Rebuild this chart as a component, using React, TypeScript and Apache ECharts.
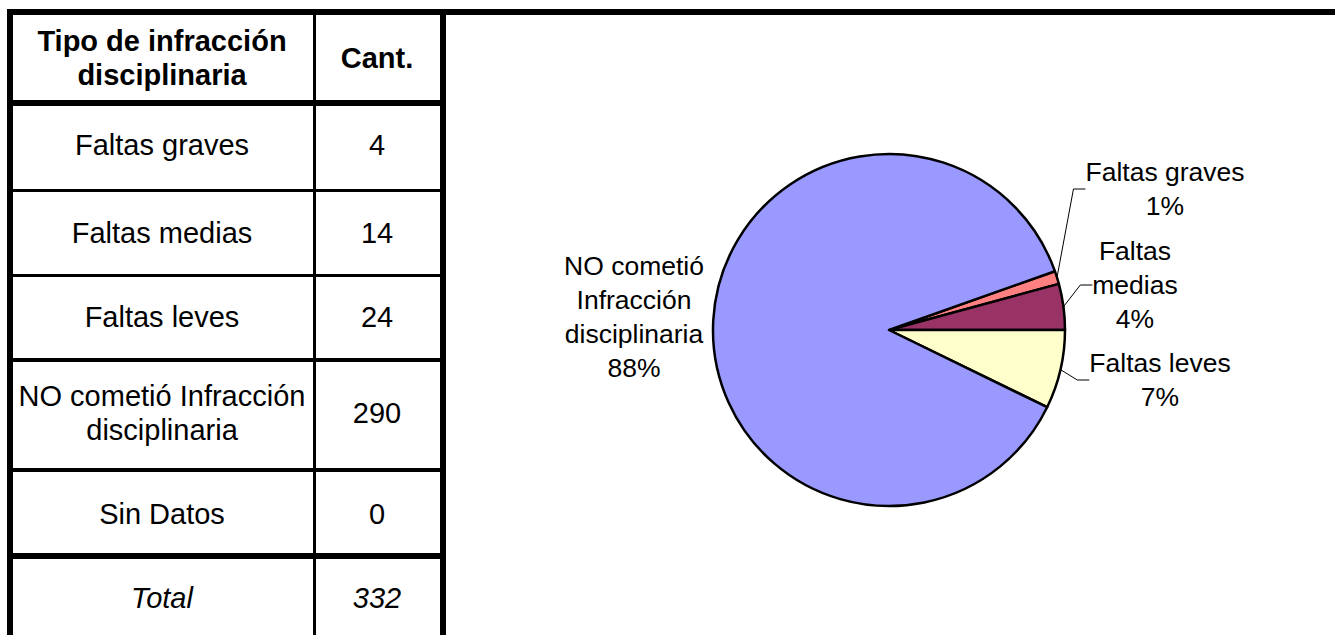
import React, { useEffect, useRef } from "react";
import * as echarts from "echarts";

// ---- data ----
const categories = [
  "Faltas graves",
  "Faltas medias",
  "Faltas leves",
  "NO cometió Infracción disciplinaria",
  "Sin Datos",
];
const counts = [4, 14, 24, 290, 0];
const tableLabels = [
  "Faltas graves",
  "Faltas medias",
  "Faltas leves",
  "NO cometió Infracción\ndisciplinaria",
  "Sin Datos",
];
const pieLabels = [
  "Faltas graves",
  "Faltas\nmedias",
  "Faltas leves",
  "NO cometió\nInfracción\ndisciplinaria",
  "Sin Datos",
];
const headers = ["Tipo de infracción\ndisciplinaria", "Cant."];
const totalLabel = "Total";

// ---- styles / layout ----
const sliceColors = ["#FF8080", "#993366", "#FFFFCC", "#9999FF", "#00CCFF"];
const FONT = "'Liberation Sans', Arial, Helvetica, sans-serif";
const col1X = 162;
const col2X = 377;
const headerY = 58;
const rowY = [145, 233, 317, 413, 514];
const totalY = 598;
const hLines = [
  [7, 9, 1328, 6],
  [7, 100, 439, 6],
  [7, 189, 439, 3],
  [7, 274, 439, 3],
  [7, 358, 439, 4],
  [7, 468, 439, 4],
  [7, 553, 439, 6],
];
const vLines = [
  [7, 9, 6, 626],
  [313, 9, 3, 626],
  [440, 9, 6, 626],
];
const labelPos = [
  { x: 1165, y: 189 },
  { x: 1135, y: 285 },
  { x: 1160, y: 380 },
  { x: 634, y: 317 },
  { x: 634, y: 317 },
];

function cellText(text: string, x: number, y: number, opts: any = {}) {
  return {
    type: "text",
    x,
    y,
    z: 10,
    style: {
      text,
      fill: "#000",
      fontFamily: FONT,
      fontSize: 29,
      lineHeight: 34,
      fontWeight: opts.bold ? "bold" : "normal",
      fontStyle: opts.italic ? "italic" : "normal",
      align: "center",
      verticalAlign: "middle",
      textAlign: "center",
      textVerticalAlign: "middle",
    },
  };
}

export default function App() {
  const ref = useRef<HTMLDivElement>(null);

  useEffect(() => {
    if (!ref.current) return;
    const chart = echarts.init(ref.current, undefined, { renderer: "svg" });

    const total = counts.reduce((a, b) => a + b, 0);
    const idx = counts.map((_, i) => i).filter((i) => counts[i] > 0);
    const pieData = idx.map((i) => ({
      name: categories[i],
      value: counts[i],
      itemStyle: { color: sliceColors[i] },
      labelLine: { show: i !== 3 },
    }));
    const startAngle = ((counts[0] + counts[1]) / total) * 360;

    const graphic: any[] = [];
    hLines.forEach(([x, y, w, h]) =>
      graphic.push({ type: "rect", z: 5, shape: { x, y, width: w, height: h }, style: { fill: "#000" } })
    );
    vLines.forEach(([x, y, w, h]) =>
      graphic.push({ type: "rect", z: 5, shape: { x, y, width: w, height: h }, style: { fill: "#000" } })
    );
    graphic.push(cellText(headers[0], col1X, headerY, { bold: true }));
    graphic.push(cellText(headers[1], col2X, headerY, { bold: true }));
    tableLabels.forEach((t, i) => {
      graphic.push(cellText(t, col1X, rowY[i]));
      graphic.push(cellText(String(counts[i]), col2X, rowY[i]));
    });
    graphic.push(cellText(totalLabel, col1X, totalY, { italic: true }));
    graphic.push(cellText(String(total), col2X, totalY, { italic: true }));

    chart.setOption({
      animation: false,
      backgroundColor: "#fff",
      graphic,
      series: [
        {
          type: "pie",
          center: [889, 330],
          radius: 176,
          startAngle,
          clockwise: true,
          percentPrecision: 0,
          avoidLabelOverlap: false,
          data: pieData,
          itemStyle: { borderColor: "#000", borderWidth: 2.5 },
          emphasis: { disabled: true },
          label: {
            show: true,
            position: "outside",
            color: "#000",
            fontFamily: FONT,
            fontSize: 26.5,
            lineHeight: 34,
            align: "center",
            formatter: (p: any) => `${pieLabels[idx[p.dataIndex]]}\n${p.percent}%`,
          },
          labelLine: {
            show: true,
            length: 10,
            length2: 12,
            lineStyle: { color: "#000", width: 1 },
          },
          labelLayout: (p: any) => {
            const pos = labelPos[idx[p.dataIndex]];
            return { x: pos.x, y: pos.y, align: "center", verticalAlign: "middle" };
          },
        },
      ],
    });

    return () => chart.dispose();
  }, []);

  return (
    <div
      ref={ref}
      style={{ position: "absolute", left: 0, top: 0, width: 1335, height: 635, background: "#fff" }}
    />
  );
}
